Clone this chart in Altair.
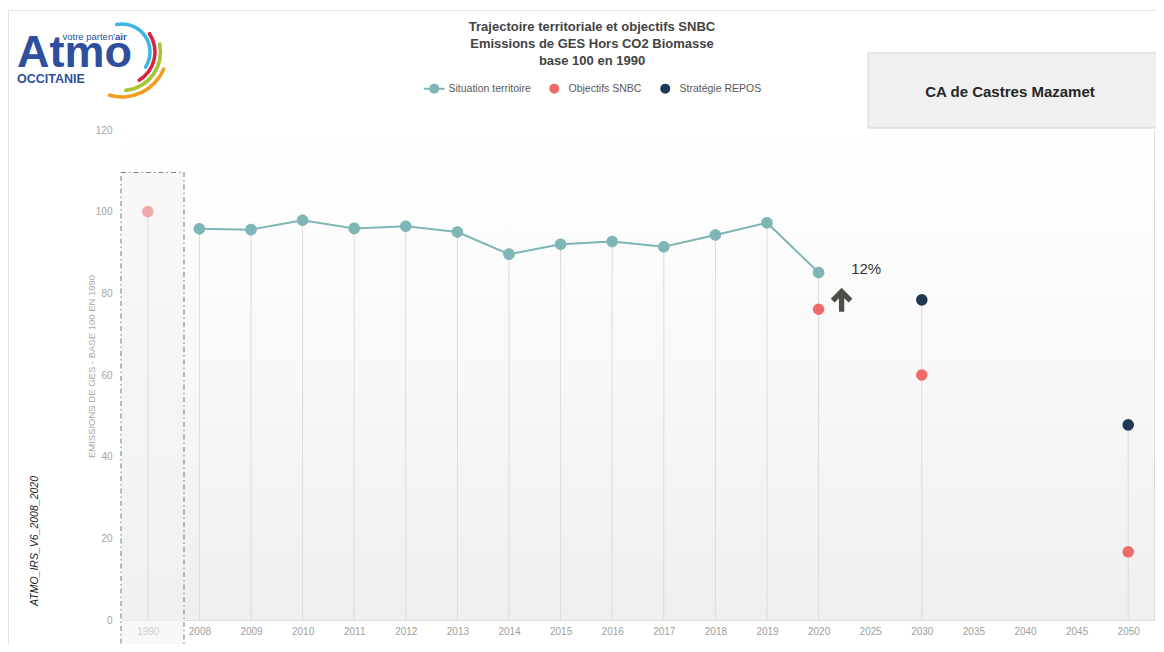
import altair as alt
import pandas as pd

# ---------------- data ----------------
years = ["1990", "2008", "2009", "2010", "2011", "2012", "2013", "2014", "2015",
         "2016", "2017", "2018", "2019", "2020", "2025", "2030", "2035", "2040",
         "2045", "2050"]

situation_years = ["2008", "2009", "2010", "2011", "2012", "2013", "2014", "2015",
                   "2016", "2017", "2018", "2019", "2020"]
situation_values = [95.8, 95.6, 97.9, 95.9, 96.4, 95.0, 89.6, 92.0, 92.7, 91.4,
                    94.3, 97.3, 85.1]

snbc_years = ["1990", "2020", "2030", "2050"]
snbc_values = [100.0, 76.1, 60.0, 16.7]

repos_years = ["2030", "2050"]
repos_values = [78.4, 47.8]

series = ["Situation territoire", "Objectifs SNBC", "Stratégie REPOS"]
series_colors = ["#7db6b4", "#ee6b6a", "#1e3954"]

annot_year = ["2025"]
annot_value = [86.0]
annot_label = ["12%"]

arrow_year = ["2020"]
arrow_value = [78.4]

title_lines = ["Trajectoire territoriale et objectifs SNBC",
               "Emissions de GES Hors CO2 Biomasse",
               "base 100 en 1990"]
territory = "CA de Castres Mazamet"
side_label = "ATMO_IRS_V6_2008_2020"
y_title = "EMISSIONS DE GES - BASE 100 EN 1990"

# ---------------- tables ----------------
pts = pd.concat([
    pd.DataFrame({"year": situation_years, "value": situation_values, "serie": series[0]}),
    pd.DataFrame({"year": snbc_years, "value": snbc_values, "serie": series[1]}),
    pd.DataFrame({"year": repos_years, "value": repos_values, "serie": series[2]}),
], ignore_index=True)
line_df = pts[pts["serie"] == series[0]]
rules_df = pts.groupby("year", as_index=False)["value"].max()
annot_df = pd.DataFrame({"year": annot_year, "value": annot_value, "label": annot_label})
arrow_df = pd.DataFrame({"year": arrow_year, "value": arrow_value})
one = pd.DataFrame({"k": [0]})   # single row for decorations

FONT_N = "Liberation Sans Narrow, Arial Narrow, Liberation Sans, Arial, sans-serif"
FONT = "Liberation Sans, Arial, sans-serif"
W, H = 1032, 490

LINE_CIRCLE = "M-2.6,0L-1,0M1,0L2.6,0M1,0A1,1,0,1,1,-1,0A1,1,0,1,1,1,0Z"
ARROW = "M0,-1L0.9,-0.1L0.58,0.22L0.22,-0.14L0.22,1L-0.22,1L-0.22,-0.14L-0.58,0.22L-0.9,-0.1Z"

x_scale = alt.Scale(type="point", domain=years, padding=0.5)
x_axis = alt.Axis(title=None, labelAngle=0, labelFont=FONT_N, labelFontSize=10,
                  labelPadding=6, ticks=False, domain=False, grid=False, zindex=1,
                  labelColor={"condition": {"test": "datum.value == '1990'", "value": "#cdcdcd"},
                              "value": "#9e9e9e"})
y_scale = alt.Scale(domain=[0, 120], nice=False, zero=True)
y_axis = alt.Axis(title=y_title, values=[0, 20, 40, 60, 80, 100, 120], labelFont=FONT_N,
                  labelFontSize=10, labelColor="#a3a3a3", labelPadding=10,
                  ticks=False, domain=False, grid=False,
                  titleFont=FONT_N, titleFontSize=9.5, titleFontWeight="normal",
                  titleColor="#ababab", titleX=-31, titleY=236, titleBaseline="middle",
                  titleAlign="center", titleAngle=270)

X = alt.X("year:N", scale=x_scale, axis=x_axis)
Y = alt.Y("value:Q", scale=y_scale, axis=y_axis)

leg = alt.Legend(orient="none", legendX=307, legendY=-47, direction="horizontal",
                 title=None, symbolSize=64, symbolStrokeWidth=2, labelFont=FONT_N,
                 labelFontSize=10.5, labelColor="#595959", labelOffset=9,
                 columnPadding=15)

deco = alt.Chart(one)

# frame around the report page
frame = deco.mark_rect(fill=None, stroke="#e3e3e3", strokeWidth=1).encode(
    x=alt.value(-113.5), x2=alt.value(1100), y=alt.value(-119.5), y2=alt.value(600))

# gradient background
bg = deco.mark_rect(
    color=alt.Gradient(gradient="linear",
                       stops=[alt.GradientStop(color="#ffffff", offset=0),
                              alt.GradientStop(color="#fefefe", offset=0.12),
                              alt.GradientStop(color="#efefef", offset=1)],
                       x1=0, x2=0, y1=0, y2=1)
).encode(x=alt.value(0), x2=alt.value(W), y=alt.datum(120), y2=alt.datum(0))

# dashed 1990 box
box = deco.mark_rect(fill="#f3f3f3", fillOpacity=0.55, stroke="#6b8b8c",
                     strokeWidth=1.1, strokeDash=[5, 3, 1.5, 3]).encode(
    x=alt.value(-1), x2=alt.value(62), y=alt.datum(109.6), y2=alt.value(540))

rules = alt.Chart(rules_df).mark_rule(color="#dcdcdc", strokeWidth=1).encode(
    x=X, y=Y, y2=alt.datum(0))

line = alt.Chart(line_df).mark_line(strokeWidth=2).encode(
    x=X, y=Y,
    stroke=alt.Stroke("serie:N", scale=alt.Scale(domain=series, range=series_colors), legend=leg))

points = alt.Chart(pts).mark_point(filled=True, size=135, strokeWidth=0).encode(
    x=X, y=Y,
    fill=alt.Fill("serie:N", scale=alt.Scale(domain=series, range=series_colors), legend=leg),
    shape=alt.Shape("serie:N", scale=alt.Scale(domain=series,
                                               range=[LINE_CIRCLE, "circle", "circle"]),
                    legend=leg),
    opacity=alt.condition("datum.year == '1990'", alt.value(0.55), alt.value(1.0)))

pct = alt.Chart(annot_df).mark_text(font=FONT_N, fontSize=15, color="#333333",
                                    dx=-4, baseline="middle").encode(
    x=X, y=Y, text="label:N")

arrow = alt.Chart(arrow_df).mark_point(shape=ARROW, filled=True, size=576,
                                       color="#4e4e48", xOffset=23, opacity=1).encode(x=X, y=Y)

title = deco.mark_text(font=FONT_N, fontSize=13, fontWeight="bold", color="#434343",
                       align="center", baseline="alphabetic", lineHeight=17).encode(
    x=alt.value(470), y=alt.value(-99), text=alt.value(title_lines))

ca_box = deco.mark_rect(fill="#f0f0f0", stroke="#d2d2d2", strokeWidth=1).encode(
    x=alt.value(746), x2=alt.value(1100), y=alt.value(-77), y2=alt.value(-2))
ca_text = deco.mark_text(font=FONT_N, fontSize=15, fontWeight="bold", color="#262626",
                         align="center", baseline="middle").encode(
    x=alt.value(888), y=alt.value(-38), text=alt.value(territory))

side = deco.mark_text(font=FONT_N, fontSize=10.5, fontStyle="italic", color="#222222",
                      angle=270, align="center", baseline="middle").encode(
    x=alt.value(-87), y=alt.value(411), text=alt.value(side_label))

# logo
LOGO_BLUE = "#2d4f9e"
logo_atmo = deco.mark_text(font=FONT, fontSize=45, fontWeight="bold", color=LOGO_BLUE,
                           align="left", baseline="alphabetic").encode(
    x=alt.value(-105), y=alt.value(-63), text=alt.value("Atmo"))
logo_v = deco.mark_text(font=FONT, fontSize=9.5, color=LOGO_BLUE, align="right",
                        baseline="alphabetic").encode(
    x=alt.value(-7), y=alt.value(-90), text=alt.value("votre parten'"))
logo_air = deco.mark_text(font=FONT, fontSize=9.5, fontWeight="bold", color=LOGO_BLUE,
                          align="left", baseline="alphabetic").encode(
    x=alt.value(-7), y=alt.value(-90), text=alt.value("air"))
logo_occ = deco.mark_text(font=FONT, fontSize=12.5, fontWeight="bold", color=LOGO_BLUE,
                          align="left", baseline="alphabetic").encode(
    x=alt.value(-105), y=alt.value(-47), text=alt.value("OCCITANIE"))

arcs_spec = [("#3cb5e2", 28.0, 6.03, 8.49),
             ("#d9243e", 33.0, 0.93, 2.65),
             ("#a6c534", 38.5, 1.32, 3.09),
             ("#f39a1f", 45.0, 1.92, 3.46)]
arcs = []
for col, r, t1, t2 in arcs_spec:
    arcs.append(deco.mark_arc(color=col, cornerRadius=2).encode(
        x=alt.value(0), y=alt.value(-78),
        theta=alt.value(t1), theta2=alt.value(t2),
        radius=alt.value(r + 1.8), radius2=alt.value(r - 1.8)))

chart = alt.layer(frame, bg, box, rules, line, points, pct, arrow, title, ca_box, ca_text,
                  side, logo_atmo, logo_v, logo_air, logo_occ, *arcs).properties(
    width=W, height=H,
    autosize=alt.AutoSizeParams(type="none"),
    padding={"left": 114, "top": 122, "right": 2, "bottom": 24},
).configure_view(stroke=None).configure_axis(
    domain=False, ticks=False, grid=False
).configure(background="white")

chart.save("out.html", embed_options={"renderer": "svg", "actions": False})
